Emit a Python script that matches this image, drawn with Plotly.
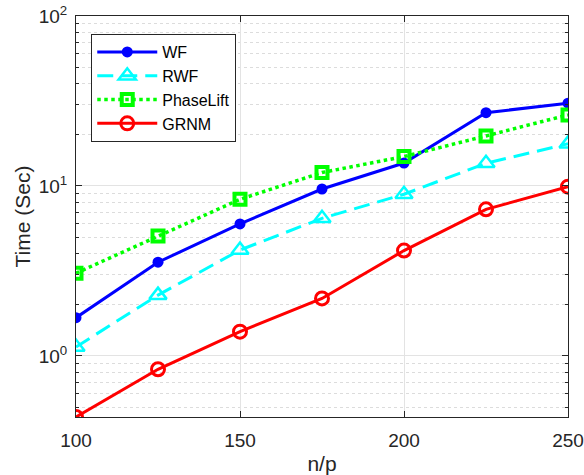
import plotly.graph_objects as go
import numpy as np

x_vals = [100, 125, 150, 175, 200, 225, 250]
wf = [1.68, 3.56, 5.98, 9.6, 13.65, 27.0, 30.7]
rwf = [1.13, 2.28, 4.2, 6.45, 8.94, 13.6, 17.7]
phaselift = [3.07, 5.08, 8.35, 12.0, 14.9, 19.7, 26.2]
grnm = [0.4375, 0.835, 1.39, 2.18, 4.17, 7.29, 9.91]

x_ticks = [100, 150, 200, 250]
y_ticks = [1, 10, 100]
y_tick_text = ["10<sup>0</sup>", "10<sup>1</sup>", "10<sup>2</sup>"]
y_minor = [0.5, 0.6, 0.7, 0.8, 0.9] + [m * d for d in (1, 10) for m in range(2, 10)]

axis_col = "#262626"
font_fam = "Liberation Sans, Arial, sans-serif"

fig = go.Figure()
fig.add_trace(go.Scatter(x=x_vals, y=wf, name="WF", mode="lines+markers",
                         line=dict(color="#0000FF", width=3),
                         marker=dict(symbol="circle", size=11, color="#0000FF")))
fig.add_trace(go.Scatter(x=x_vals, y=rwf, name="RWF", mode="lines+markers",
                         line=dict(color="#00FFFF", width=3, dash="16px,8px"),
                         marker=dict(symbol="triangle-up-open", size=15, color="#00FFFF",
                                     line=dict(width=2.5, color="#00FFFF"))))
fig.add_trace(go.Scatter(x=x_vals, y=phaselift, name="PhaseLift", mode="lines+markers",
                         line=dict(color="#00FF00", width=3.5, dash="dot"),
                         marker=dict(symbol="square-open", size=11, color="#00FF00",
                                     line=dict(width=4, color="#00FF00"))))
fig.add_trace(go.Scatter(x=x_vals, y=grnm, name="GRNM", mode="lines+markers",
                         line=dict(color="#FF0000", width=3),
                         marker=dict(symbol="circle-open", size=13, color="#FF0000",
                                     line=dict(width=3, color="#FF0000"))))

fig.update_layout(
    width=584, height=475,
    margin=dict(l=76, r=16, t=16, b=58, autoexpand=False),
    paper_bgcolor="white", plot_bgcolor="white",
    font=dict(family=font_fam, size=19, color=axis_col),
    showlegend=True,
    legend=dict(x=0.031, y=0.955, xanchor="left", yanchor="top",
                bgcolor="white", bordercolor=axis_col, borderwidth=1,
                font=dict(size=16, color="black"), itemwidth=60,
                tracegroupgap=0),
    xaxis=dict(range=[100, 250], tickvals=x_ticks, ticks="inside", ticklen=6,
               tickcolor=axis_col, showline=True, linecolor=axis_col, linewidth=1,
               mirror="ticks", showgrid=True, gridcolor="#E3E3E3", gridwidth=1,
               zeroline=False, ticklabelstandoff=6,
               title=dict(text="n/p", standoff=6, font=dict(size=21)),
               tickfont=dict(size=19), automargin=False),
    yaxis=dict(type="log", range=[np.log10(0.4375), 2], tickvals=y_ticks,
               ticktext=y_tick_text, ticks="inside", ticklen=6, tickcolor=axis_col,
               showline=True, linecolor=axis_col, linewidth=1, mirror="ticks",
               showgrid=True, gridcolor="#E3E3E3", gridwidth=1, zeroline=False,
               ticklabelstandoff=4,
               title=dict(text="Time (Sec)", standoff=2, font=dict(size=21)),
               tickfont=dict(size=19), automargin=False,
               minor=dict(tickvals=y_minor, ticks="inside", ticklen=3,
                          tickcolor=axis_col, showgrid=True, gridcolor="#DCDCDC",
                          griddash="dot", gridwidth=1)),
)

fig.write_html("out.html", config={"displayModeBar": False},
               post_script="document.body.style.margin='0';document.body.style.overflow='hidden';")
